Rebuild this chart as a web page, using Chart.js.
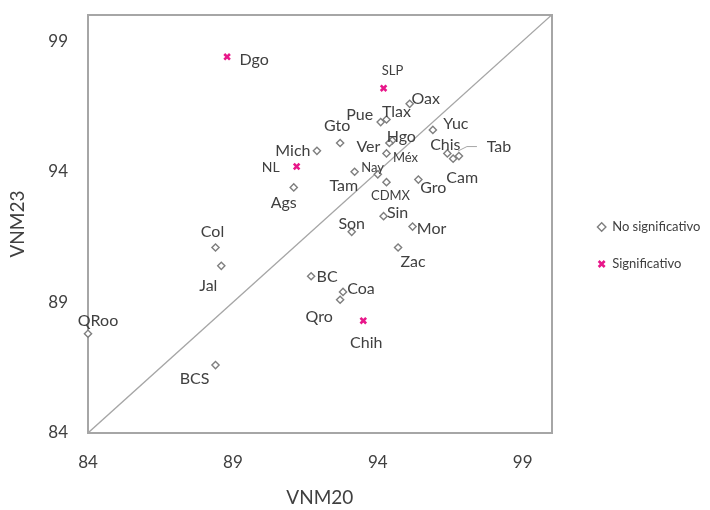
<!DOCTYPE html>
<html>
<head>
<meta charset="utf-8">
<script src="https://cdn.jsdelivr.net/npm/chart.js@4.4.1/dist/chart.umd.min.js"></script>
<style>
  html, body { margin: 0; padding: 0; background: #fff; }
</style>
</head>
<body>
<canvas id="chart" width="710" height="510"></canvas>
<script>
// states and their values (VNM20 on x, VNM23 on y)
const states = ['Ags', 'BC', 'BCS', 'Cam', 'Coa', 'Col', 'Chis', 'Chih', 'CDMX', 'Dgo', 'Gto', 'Gro', 'Hgo', 'Jal', 'Méx', 'Mich',
                'Mor', 'Nay', 'NL', 'Oax', 'Pue', 'Qro', 'QRoo', 'SLP', 'Sin', 'Son', 'Tab', 'Tam', 'Tlax', 'Ver', 'Yuc', 'Zac'];
const vnm20 = [91.1, 91.7, 88.4, 96.6, 92.8, 88.4, 96.4, 93.5, 94.3, 88.8, 92.7, 95.4, 94.5, 88.6, 94.3, 91.9,
               95.2, 93.2, 91.2, 95.1, 94.1, 92.7, 84.0, 94.2, 94.2, 93.1, 96.8, 94.0, 94.3, 94.4, 95.9, 94.7];
const vnm23 = [93.4, 90.0, 86.6, 94.5, 89.4, 91.1, 94.7, 88.3, 93.6, 98.4, 95.1, 93.7, 95.2, 90.4, 94.7, 94.8,
               91.9, 94.0, 94.2, 96.6, 95.9, 89.1, 87.8, 97.2, 92.3, 91.7, 94.6, 93.9, 96.0, 95.1, 95.6, 91.1];
const significant = ['Chih', 'Dgo', 'NL', 'SLP'];
const seriesNames = ['No significativo', 'Significativo'];
const xTicks = [84, 89, 94, 99];
const yTicks = [84, 89, 94, 99];
const axisRange = [84, 100];

// where each label sits relative to its marker (px)
const labelOffset = {
  Ags: [-10, 15], BC: [16, 1], BCS: [-21, 14], Cam: [9, 19], Coa: [18, -3], Col: [-3, -16], Chis: [-2, -9],
  Chih: [3, 22], CDMX: [4, 14], Dgo: [27, 3], Gto: [-3, -17], Gro: [15, 8], Hgo: [9, -4], Jal: [-13, 20],
  'Méx': [19, 4], Mich: [-24, 0], Mor: [19, 2], Nay: [18, -4], NL: [-26, 1], Oax: [16, -5], Pue: [-21, -7],
  Qro: [-21, 17], QRoo: [10, -13], SLP: [9, -17], Sin: [14, -3], Son: [0, -8], Tab: [40, -9], Tam: [-34, 11],
  Tlax: [10, -8], Ver: [-21, 4], Yuc: [23, -6], Zac: [15, 14]
};
const smallLabels = ['SLP', 'Nay', 'Méx', 'CDMX'];

const FONT = 'Lato';
const TEXT = '#404040';
const AXIS = '#a6a6a6';

function pointsFor(isSig) {
  const pts = [], names = [];
  states.forEach((s, i) => {
    if (significant.includes(s) === isSig) {
      pts.push({ x: vnm20[i], y: vnm23[i] });
      names.push(s);
    }
  });
  return { pts, names };
}
const noSig = pointsFor(false);
const sig = pointsFor(true);

const stateLabels = {
  id: 'stateLabels',
  afterDatasetsDraw(chart) {
    const ctx = chart.ctx;
    ctx.save();
    ctx.fillStyle = TEXT;
    ctx.textAlign = 'center';
    ctx.textBaseline = 'middle';
    chart.data.datasets.forEach((ds, di) => {
      if (!ds.names) return;
      chart.getDatasetMeta(di).data.forEach((pt, i) => {
        const name = ds.names[i];
        const off = labelOffset[name] || [12, 0];
        ctx.font = (smallLabels.includes(name) ? 13 : name === 'NL' ? 14 : 16) + 'px ' + FONT;
        ctx.fillText(name, pt.x + off[0], pt.y + off[1]);
        if (name === 'Tab') {
          ctx.strokeStyle = AXIS;
          ctx.lineWidth = 1;
          ctx.beginPath();
          ctx.moveTo(pt.x - 1, pt.y - 5);
          ctx.lineTo(pt.x + 8, pt.y - 9.5);
          ctx.lineTo(pt.x + 18, pt.y - 9.5);
          ctx.stroke();
        }
      });
    });
    ctx.restore();
  }
};

// nudge the legend to where the reference has it
const legendShift = {
  id: 'legendShift',
  afterLayout(chart) {
    const l = chart.legend;
    l.left += 22; l.right = chart.width;
    l.top -= 17; l.bottom -= 17;
  }
};

const noPad = s => { s.paddingTop = 0; s.paddingBottom = 0; s.paddingLeft = 0; s.paddingRight = 0; };

const ctx = document.getElementById('chart').getContext('2d');
new Chart(ctx, {
  type: 'scatter',
  data: {
    datasets: [
      {
        label: seriesNames[0],
        data: noSig.pts,
        names: noSig.names,
        pointStyle: 'rectRot',
        pointRadius: 3.6,
        pointBackgroundColor: '#ffffff',
        backgroundColor: '#ffffff',
        borderColor: '#7f7f7f',
        pointBorderWidth: 1.4,
        borderWidth: 1.4,
        clip: false,
        order: 1
      },
      {
        label: seriesNames[1],
        data: sig.pts,
        names: sig.names,
        pointStyle: 'crossRot',
        pointRadius: 4,
        borderColor: '#e8178a',
        backgroundColor: '#e8178a',
        pointBorderWidth: 2.6,
        borderWidth: 2.6,
        clip: false,
        order: 2
      },
      {
        type: 'line',
        label: '',
        data: axisRange.map(v => ({ x: v, y: v })),
        borderColor: AXIS,
        borderWidth: 1.3,
        pointRadius: 0,
        fill: false,
        order: 3
      }
    ]
  },
  options: {
    responsive: false,
    animation: false,
    layout: { padding: { top: 15, right: 48, bottom: 0, left: 0 } },
    plugins: {
      tooltip: { enabled: false },
      legend: {
        position: 'right',
        labels: {
          usePointStyle: true,
          boxWidth: 8,
          boxHeight: 6,
          padding: 24,
          color: TEXT,
          font: { family: FONT, size: 13 },
          filter: item => item.text !== ''
        }
      }
    },
    scales: {
      x: {
        type: 'linear',
        min: axisRange[0],
        max: axisRange[1],
        afterBuildTicks: s => { s.ticks = xTicks.map(v => ({ value: v })); },
        afterFit: s => { s.height = 77; noPad(s); },
        grid: { display: false, drawTicks: false },
        border: { color: AXIS, width: 2 },
        ticks: { padding: 19, color: TEXT, font: { family: FONT, size: 17 } },
        title: { display: true, text: 'VNM20', color: TEXT, font: { family: FONT, size: 19 }, padding: { top: 0, bottom: 1 } }
      },
      y: {
        type: 'linear',
        min: axisRange[0],
        max: axisRange[1],
        afterBuildTicks: s => { s.ticks = yTicks.map(v => ({ value: v })); },
        afterFit: s => { s.width = 88; noPad(s); },
        grid: { display: false, drawTicks: false },
        border: { color: AXIS, width: 2 },
        ticks: { padding: 20, color: TEXT, font: { family: FONT, size: 17 } },
        title: { display: true, text: 'VNM23', color: TEXT, font: { family: FONT, size: 19 }, padding: { top: 6, bottom: 0 } }
      },
      xTop: {
        type: 'linear',
        position: 'top',
        min: axisRange[0],
        max: axisRange[1],
        afterFit: s => { s.height = 0; noPad(s); },
        grid: { display: false, drawTicks: false },
        border: { color: AXIS, width: 2 },
        ticks: { display: false }
      },
      yRight: {
        type: 'linear',
        position: 'right',
        min: axisRange[0],
        max: axisRange[1],
        afterFit: s => { s.width = 0; noPad(s); },
        grid: { display: false, drawTicks: false },
        border: { color: AXIS, width: 2 },
        ticks: { display: false }
      }
    }
  },
  plugins: [stateLabels, legendShift]
});
</script>
</body>
</html>
